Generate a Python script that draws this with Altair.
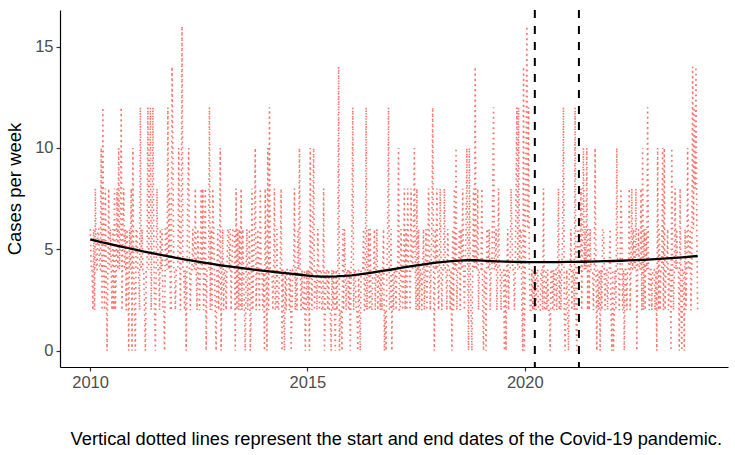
import altair as alt
import numpy as np
import pandas as pd

# Weekly case counts, one list per calendar year (weeks start 2010-01-03)
cases_2010 = [6, 4, 4, 2, 6, 2, 8, 4, 4, 6, 6, 4, 4, 10, 2, 12, 4, 2, 8, 4, 0, 4, 8, 4, 6, 4, 2, 6, 2, 8,
              2, 4, 8, 4, 10, 4, 6, 12, 2, 6, 8, 4, 6, 2, 6, 4, 0, 6, 4, 8, 0, 10]
cases_2011 = [4, 2, 0, 6, 6, 4, 4, 2, 12, 4, 6, 4, 4, 2, 0, 4, 4, 12, 4, 8, 12, 2, 6, 12, 6, 2, 0, 4, 8, 4,
              4, 2, 6, 4, 6, 2, 2, 0, 6, 6, 4, 12, 4, 8, 2, 2, 14, 10, 4, 4, 2, 4]
cases_2012 = [4, 4, 10, 6, 2, 6, 16, 4, 4, 2, 4, 0, 4, 8, 10, 4, 2, 4, 4, 6, 4, 4, 8, 4, 2, 6, 4, 2, 4, 8,
              4, 8, 2, 4, 8, 0, 4, 4, 4, 12, 2, 6, 2, 8, 6, 4, 2, 0, 4, 6, 2, 4]
cases_2013 = [10, 0, 4, 6, 2, 4, 4, 2, 4, 6, 6, 4, 6, 2, 4, 6, 6, 6, 0, 8, 2, 6, 2, 6, 2, 8, 2, 6, 4, 2,
              0, 4, 6, 2, 4, 6, 0, 2, 8, 2, 4, 6, 10, 2, 4, 6, 4, 2, 8, 4, 4, 2]
cases_2014 = [4, 0, 8, 4, 0, 10, 2, 12, 4, 4, 4, 2, 4, 8, 2, 2, 6, 2, 2, 4, 4, 8, 0, 4, 2, 0, 4, 2, 4, 4,
              4, 2, 4, 0, 2, 4, 4, 8, 2, 4, 2, 6, 4, 10, 4, 2, 4, 2, 2, 4, 0, 2]
cases_2015 = [4, 2, 4, 0, 10, 4, 2, 6, 10, 2, 4, 4, 2, 6, 4, 2, 4, 4, 2, 2, 8, 0, 2, 4, 4, 2, 4, 2, 2, 0,
              4, 2, 4, 2, 0, 4, 2, 4, 14, 0, 2, 2, 0, 6, 2, 6, 4, 2, 4, 4, 2, 4]
cases_2016 = [0, 4, 6, 12, 2, 4, 4, 2, 2, 0, 4, 2, 0, 4, 4, 4, 6, 2, 2, 12, 2, 4, 6, 2, 6, 2, 2, 4, 4, 6,
              2, 4, 6, 2, 4, 4, 2, 4, 2, 4, 6, 0, 2, 0, 4, 6, 12, 2, 2, 6, 0, 4]
cases_2017 = [2, 4, 4, 2, 4, 4, 10, 2, 2, 6, 4, 2, 4, 8, 2, 6, 2, 8, 4, 4, 2, 8, 4, 4, 6, 10, 4, 2, 8, 2,
              6, 2, 4, 4, 2, 4, 6, 2, 4, 6, 2, 4, 8, 6, 2, 4, 6, 12, 4, 0, 6, 4]
cases_2018 = [8, 4, 2, 4, 8, 4, 2, 4, 4, 8, 4, 4, 2, 6, 4, 4, 2, 4, 0, 6, 2, 8, 4, 10, 2, 4, 4, 6, 2, 6,
              4, 8, 4, 2, 4, 6, 10, 4, 0, 10, 4, 2, 0, 4, 8, 4, 14, 4, 4, 8, 2, 4]
cases_2019 = [4, 4, 8, 2, 0, 4, 4, 0, 6, 6, 4, 6, 2, 4, 4, 8, 12, 4, 4, 6, 2, 4, 8, 4, 4, 2, 4, 4, 4, 0,
              4, 0, 4, 6, 2, 4, 4, 8, 6, 4, 4, 2, 4, 8, 12, 4, 12, 4, 6, 6, 2, 0]
cases_2020 = [14, 0, 4, 10, 16, 6, 12, 4, 2, 2, 4, 2, 4, 2, 4, 2, 4, 4, 2, 2, 2, 4, 4, 2, 8, 2, 2, 4, 2, 4,
              2, 2, 0, 4, 4, 2, 4, 2, 4, 4, 2, 4, 8, 2, 4, 2, 4, 6, 12, 2, 0, 2]
cases_2021 = [4, 2, 0, 4, 4, 6, 2, 4, 4, 2, 12, 2, 0, 6, 6, 4, 4, 8, 2, 6, 10, 4, 6, 4, 10, 2, 6, 2, 6, 4,
              4, 4, 2, 4, 10, 4, 0, 4, 2, 4, 0, 4, 2, 6, 6, 4, 2, 4, 4, 2, 4, 4]
cases_2022 = [6, 2, 0, 4, 0, 2, 4, 2, 10, 4, 4, 2, 4, 8, 6, 2, 4, 0, 4, 4, 2, 4, 4, 8, 2, 4, 8, 4, 6, 4,
              4, 8, 0, 4, 6, 4, 4, 8, 2, 10, 2, 6, 2, 6, 4, 12, 4, 2, 4, 4, 2, 4]
cases_2023 = [4, 4, 2, 4, 0, 10, 2, 6, 2, 4, 4, 10, 2, 10, 2, 4, 4, 6, 2, 4, 4, 0, 10, 4, 2, 4, 8, 4, 6, 4,
              4, 0, 8, 2, 0, 4, 4, 0, 6, 2, 4, 10, 4, 4, 6, 2, 4, 14, 6, 12, 8, 14]
cases_2024 = [6, 2]

# Start and end of the Covid-19 pandemic period
pandemic_dates = ["2020-03-26", "2021-04-01"]
year_ticks = [2010, 2015, 2020]
case_ticks = [0, 5, 10, 15]
caption = "Vertical dotted lines represent the start and end dates of the Covid-19 pandemic."

cases = (cases_2010 + cases_2011 + cases_2012 + cases_2013 + cases_2014 + cases_2015 + cases_2016
         + cases_2017 + cases_2018 + cases_2019 + cases_2020 + cases_2021 + cases_2022 + cases_2023
         + cases_2024)
dates = pd.date_range("2010-01-03", periods=len(cases), freq="7D")


def decimal_year(stamps):
    stamps = pd.DatetimeIndex(stamps)
    days_in_year = np.where(stamps.is_leap_year, 366.0, 365.0)
    return np.asarray(stamps.year + (stamps.dayofyear - 1) / days_in_year, dtype=float)


weeks = pd.DataFrame({"year": decimal_year(dates), "cases": cases})


def loess(x, y, grid, span=0.75):
    """Local quadratic regression with tricube weights (gaussian family)."""
    x = np.asarray(x, float)
    y = np.asarray(y, float)
    q = int(np.floor(len(x) * span))
    fitted = []
    for x0 in grid:
        dist = np.abs(x - x0)
        h = np.sort(dist)[q - 1]
        w = np.clip(1 - (dist / h) ** 3, 0, None) ** 3
        design = np.column_stack([np.ones_like(x), x - x0, (x - x0) ** 2])
        sw = np.sqrt(w)
        beta = np.linalg.lstsq(design * sw[:, None], y * sw, rcond=None)[0]
        fitted.append(beta[0])
    return np.array(fitted)


grid = np.linspace(weeks["year"].min(), weeks["year"].max(), 80)
smooth = pd.DataFrame({"year": grid, "fit": loess(weeks["year"], weeks["cases"], grid)})
pandemic = pd.DataFrame({"year": decimal_year(pandemic_dates)})

x_lo, x_hi = weeks["year"].min(), weeks["year"].max()
x_pad = 0.05 * (x_hi - x_lo)
x_scale = alt.Scale(domain=[x_lo - x_pad, x_hi + x_pad], nice=False, zero=False)
y_scale = alt.Scale(domain=[-0.8, 16.8], nice=False, zero=False)

font = "Liberation Sans"
x_axis = alt.Axis(values=year_ticks, format="d", title=None)
y_axis = alt.Axis(values=case_ticks, format="d", title="Cases per week")

series = alt.Chart(weeks).mark_line(
    color="#F8766D", strokeWidth=1.6, strokeDash=[1.6, 3.6]
).encode(
    x=alt.X("year:Q", scale=x_scale, axis=x_axis),
    y=alt.Y("cases:Q", scale=y_scale, axis=y_axis),
)

trend = alt.Chart(smooth).mark_line(color="black", strokeWidth=2.3).encode(
    x=alt.X("year:Q", scale=x_scale),
    y=alt.Y("fit:Q", scale=y_scale),
)

rules = alt.Chart(pandemic).mark_rule(color="black", strokeWidth=2, strokeDash=[8, 8]).encode(
    x=alt.X("year:Q", scale=x_scale),
)

chart = (
    alt.layer(series, trend, rules)
    .properties(
        width=668,
        height=357,
        padding={"left": 60, "top": 10, "right": 7, "bottom": 88},
        autosize=alt.AutoSizeParams(type="none"),
        title=alt.TitleParams(
            caption, orient="bottom", anchor="end", fontSize=18.3, font=font,
            fontWeight="normal", color="black", offset=40, dx=-6,
        ),
    )
    .configure_view(stroke=None)
    .configure_axis(
        grid=False,
        domainColor="black",
        domainWidth=1.2,
        tickColor="#333333",
        tickWidth=1.2,
        tickSize=4,
        labelColor="#4D4D4D",
        labelFont=font,
        labelFontSize=16.5,
        labelPadding=3,
        titleFont=font,
        titleFontSize=18.5,
        titleFontWeight="normal",
        titleColor="black",
        titlePadding=10,
    )
)

chart.save("out.html", embed_options={"renderer": "svg", "actions": False})
